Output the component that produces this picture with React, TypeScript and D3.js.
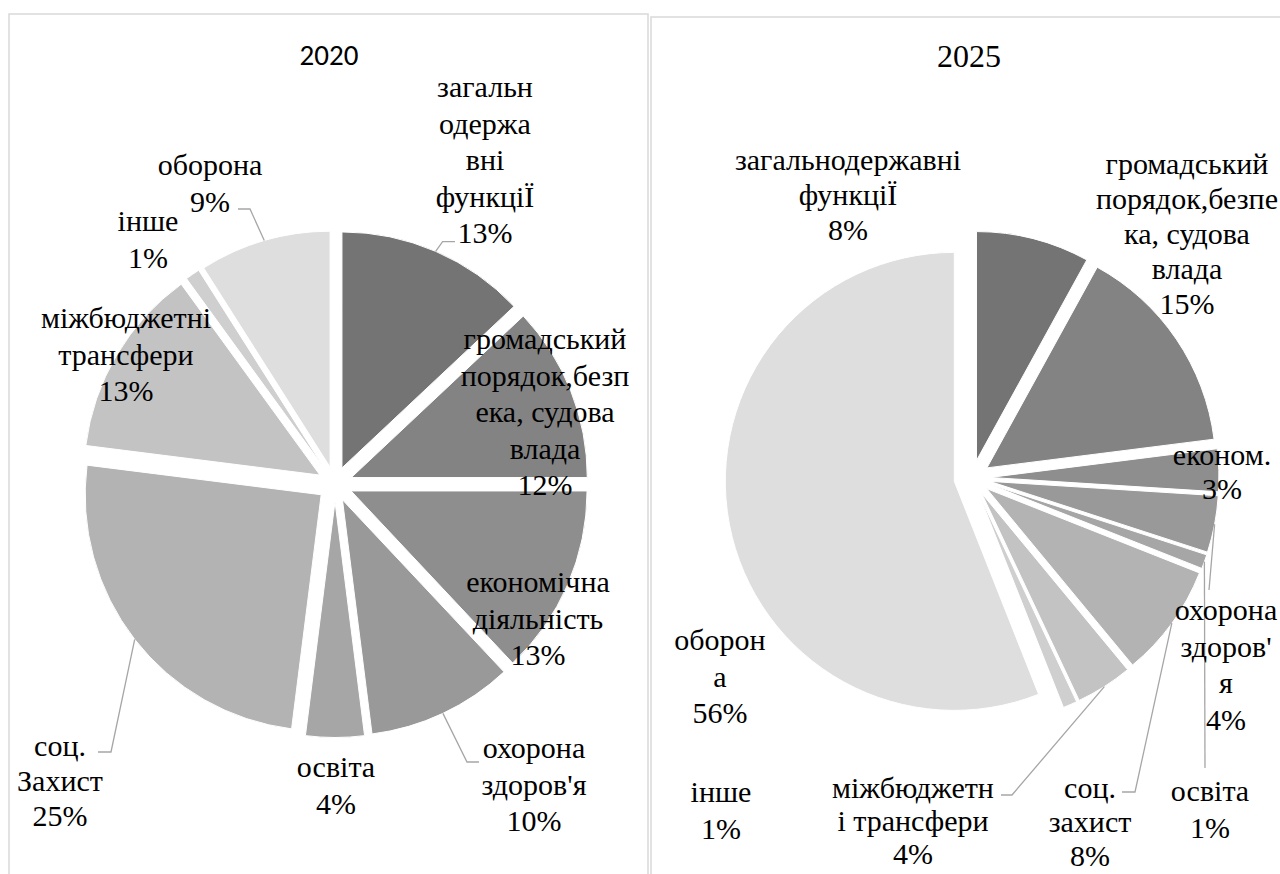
import * as d3 from "d3";

// Slice order (clockwise from 12 o'clock) is the same in both years
const NAMES_2020 = [
  ["загальн", "одержа", "вні", "функціЇ"],
  ["громадський", "порядок,безп", "ека, судова", "влада"],
  ["економічна", "діяльність"],
  ["охорона", "здоров'я"],
  ["освіта"],
  ["соц.", "Захист"],
  ["міжбюджетні", "трансфери"],
  ["інше"],
  ["оборона"],
];
const VALUES_2020 = [13, 12, 13, 10, 4, 25, 13, 1, 9];

const NAMES_2025 = [
  ["загальнодержавні", "функціЇ"],
  ["громадський", "порядок,безпе", "ка, судова", "влада"],
  ["економ."],
  ["охорона", "здоров'", "я"],
  ["освіта"],
  ["соц.", "захист"],
  ["міжбюджетн", "і трансфери"],
  ["інше"],
  ["оборон", "а"],
];
const VALUES_2025 = [8, 15, 3, 4, 1, 8, 4, 1, 56];

const SLICE_COLORS = [
  "#747474", "#838383", "#8e8e8e", "#999999", "#a6a6a6",
  "#b3b3b3", "#c3c3c3", "#cfcfcf", "#dedede",
];

const SERIF = "'Liberation Serif', 'Times New Roman', serif";

type LabelPos = { x: number; y: number; lh?: number; leader?: [number, number][] };

// label anchors (first line baseline) and leader elbows
const POS_2020: LabelPos[] = [
  { x: 485, y: 97, leader: [[442.6, 241.6], [455, 241.6]] },
  { x: 545, y: 349 },
  { x: 538, y: 592 },
  { x: 534, y: 758, leader: [[467, 762], [479, 762]] },
  { x: 336, y: 777 },
  { x: 60, y: 756, lh: 35, leader: [[111, 752], [98, 752]] },
  { x: 126, y: 328 },
  { x: 148, y: 231 },
  { x: 210, y: 175, leader: [[250, 209], [238, 209]] },
];

const POS_2025: LabelPos[] = [
  { x: 848, y: 170, lh: 35 },
  { x: 1187, y: 174, lh: 35 },
  { x: 1222, y: 465, lh: 34 },
  { x: 1226, y: 620, leader: [[1209, 590]] },
  { x: 1210, y: 801, leader: [[1205, 768]] },
  { x: 1090, y: 798, lh: 34, leader: [[1135, 792], [1122, 792]] },
  { x: 913, y: 798, lh: 33, leader: [[1012, 795], [1001, 795]] },
  { x: 721, y: 802 },
  { x: 720, y: 650 },
];

interface PieProps {
  values: number[];
  names: string[][];
  pos: LabelPos[];
  cx: number;
  cy: number;
  r: number;
  explode: number;
}

function ExplodedPie({ values, names, pos, cx, cy, r, explode }: PieProps) {
  const pie = d3.pie<number>().sort(null).value((d) => d);
  const arcs = pie(values);
  const arc = d3.arc<d3.PieArcDatum<number>>().innerRadius(0).outerRadius(r);
  const total = d3.sum(values);
  const pct = d3.format(".0%");

  return (
    <g>
      {arcs.map((a, i) => {
        const mid = (a.startAngle + a.endAngle) / 2;
        const ox = cx + Math.sin(mid) * explode;
        const oy = cy - Math.cos(mid) * explode;
        return (
          <path
            key={i}
            transform={`translate(${ox},${oy})`}
            d={arc(a) || ""}
            fill={SLICE_COLORS[i]}
            stroke="#fff"
            strokeWidth={1}
          />
        );
      })}
      {arcs.map((a, i) => {
        const p = pos[i];
        if (!p.leader) return null;
        const mid = (a.startAngle + a.endAngle) / 2;
        const sx = cx + Math.sin(mid) * (explode + r);
        const sy = cy - Math.cos(mid) * (explode + r);
        const pts: [number, number][] = [[sx, sy], ...p.leader];
        return (
          <path
            key={`l${i}`}
            d={d3.line()(pts) || ""}
            fill="none"
            stroke="#a6a6a6"
            strokeWidth={1.3}
          />
        );
      })}
      {arcs.map((a, i) => {
        const p = pos[i];
        const lh = p.lh ?? 36.5;
        const lines = [...names[i], pct(a.value / total)];
        return (
          <text
            key={`t${i}`}
            x={p.x}
            y={p.y}
            textAnchor="middle"
            style={{ fontFamily: SERIF, fontSize: 30 }}
            fill="#000"
          >
            {lines.map((s, j) => (
              <tspan key={j} x={p.x} y={p.y + j * lh}>
                {s}
              </tspan>
            ))}
          </text>
        );
      })}
    </g>
  );
}

export default function App() {
  return (
    <div style={{ position: "fixed", left: 0, top: 0, background: "#fff" }}>
      <svg width={1280} height={874} style={{ display: "block" }}>
        <rect width={1280} height={874} fill="#fff" />
        {/* panel frames */}
        <rect x={9} y={14} width={639} height={880} fill="none" stroke="#d9d9d9" strokeWidth={1.5} />
        <rect x={651} y={17} width={650} height={880} fill="none" stroke="#d9d9d9" strokeWidth={1.5} />

        <text
          x={329}
          y={65}
          textAnchor="middle"
          style={{ fontFamily: "Carlito, Lato, 'Liberation Sans', sans-serif", fontSize: 29 }}
          fill="#000"
        >
          2020
        </text>
        <text
          x={969}
          y={67}
          textAnchor="middle"
          style={{ fontFamily: SERIF, fontSize: 32 }}
          fill="#000"
        >
          2025
        </text>

        <ExplodedPie
          values={VALUES_2020}
          names={NAMES_2020}
          pos={POS_2020}
          cx={335}
          cy={484}
          r={236}
          explode={17.5}
        />
        <ExplodedPie
          values={VALUES_2025}
          names={NAMES_2025}
          pos={POS_2025}
          cx={972}
          cy={478}
          r={229}
          explode={18}
        />
      </svg>
    </div>
  );
}
